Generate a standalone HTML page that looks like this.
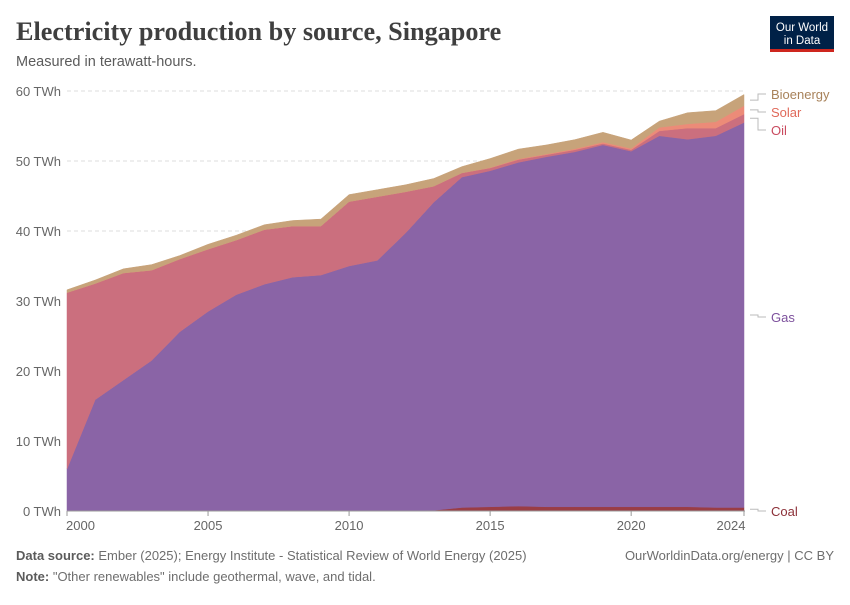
<!DOCTYPE html>
<html><head><meta charset="utf-8"><style>
body{margin:0;background:#fff;width:850px;height:600px;overflow:hidden;font-family:"Liberation Sans",sans-serif}
</style></head><body>
<svg id="chart" width="850" height="600" viewBox="0 0 850 600">
<text x="16" y="40" font-family="Liberation Serif,serif" font-size="26.2" font-weight="bold" fill="#3f3f3f">Electricity production by source, Singapore</text>
<text x="16" y="66" font-size="14.5" fill="#5b5b5b">Measured in terawatt-hours.</text>
<g>
<rect x="770" y="16" width="64" height="36" fill="#002147"/>
<rect x="770" y="49" width="64" height="3" fill="#ce261e"/>
<text x="802" y="31" text-anchor="middle" font-size="11.5" fill="#fff">Our World</text>
<text x="802" y="44" text-anchor="middle" font-size="11.5" fill="#fff">in Data</text>
</g>
<g id="grid"></g><g id="areas"></g><g id="axes"></g><g id="legend"></g>
<text x="16" y="560" font-size="13" fill="#6e6e6e"><tspan font-weight="bold" fill="#5b5b5b">Data source:</tspan> Ember (2025); Energy Institute - Statistical Review of World Energy (2025)</text>
<text x="834" y="560" text-anchor="end" font-size="13" fill="#6e6e6e">OurWorldinData.org/energy | CC BY</text>
<text x="16" y="581" font-size="13" fill="#6e6e6e"><tspan font-weight="bold" fill="#5b5b5b">Note:</tspan> "Other renewables" include geothermal, wave, and tidal.</text>
</svg>
<script>
const years=[2000,2001,2002,2003,2004,2005,2006,2007,2008,2009,2010,2011,2012,2013,2014,2015,2016,2017,2018,2019,2020,2021,2022,2023,2024];
const coal=[0,0,0,0,0,0,0,0,0,0,0,0,0,0.1,0.5,0.6,0.7,0.6,0.6,0.6,0.6,0.6,0.6,0.5,0.5];
const gas=[6.0,15.9,18.7,21.5,25.6,28.5,30.9,32.4,33.4,33.7,35.0,35.8,39.7,44.0,47.2,48.0,49.1,50.0,50.7,51.7,50.8,53.0,52.5,53.1,55.0];
const oil=[25.2,16.6,15.3,12.9,10.4,8.9,7.8,7.8,7.3,7.0,9.2,9.1,5.9,2.3,0.6,0.4,0.4,0.3,0.3,0.2,0.2,0.7,1.6,1.1,1.2];
const solar=[0,0,0,0,0,0,0,0,0,0,0,0,0,0,0,0.05,0.1,0.1,0.15,0.2,0.2,0.5,0.6,0.9,1.2];
const bio=[0.4,0.5,0.6,0.8,0.5,0.7,0.7,0.7,0.8,1.0,1.0,1.0,1.0,1.1,0.9,1.3,1.4,1.3,1.3,1.4,1.2,0.9,1.6,1.6,1.6];
const yTicks=[0,10,20,30,40,50,60];
const xTicks=[2000,2005,2010,2015,2020,2024];
const ns="http://www.w3.org/2000/svg";
const X=y=>67+(y-2000)*(744-67)/24, Y=v=>511-v*7;
function mk(tag,parent,attrs){const e=document.createElementNS(ns,tag);for(const k in attrs)e.setAttribute(k,attrs[k]);parent.appendChild(e);return e;}
const grid=document.getElementById('grid'),axes=document.getElementById('axes'),areas=document.getElementById('areas'),leg=document.getElementById('legend');
yTicks.forEach(t=>{
 if(t>0){const l=mk('line',grid,{x1:67,x2:745,y1:Y(t),y2:Y(t),stroke:'#ddd','stroke-dasharray':'4,3'});
 
 }
 const tx=mk('text',axes,{x:61,y:Y(t)+5,'text-anchor':'end','font-size':13,fill:'#666'});tx.textContent=t+' TWh';
 
 
});
const series=[['coal',coal,'#9a3d45'],['gas',gas,'#8a64a6'],['oil',oil,'#cb6f7e'],['solar',solar,'#ec8b78'],['bioenergy',bio,'#c7a37a']];
let base=years.map(()=>0);
const tops={};
series.forEach(([n,vals,c])=>{
 const top=base.map((b,i)=>b+vals[i]);
 let d='M'+years.map((y,i)=>X(y)+','+Y(top[i])).join('L');
 d+='L'+years.slice().reverse().map((y,j)=>{const i=years.length-1-j;return X(y)+','+Y(base[i]);}).join('L')+'Z';
 const p=mk('path',areas,{d:d,fill:c,stroke:c,'stroke-width':0.5});
 
 
 tops[n]=[base[base.length-1],top[top.length-1]];
 base=top;
});
const ax=mk('line',axes,{x1:67,x2:745,y1:511,y2:511,stroke:'#999'});


xTicks.forEach((t,i)=>{
 mk('line',axes,{x1:X(t),x2:X(t),y1:511,y2:516,stroke:'#999'});
 const last=i==xTicks.length-1;
 const tx=mk('text',axes,{x:i==0?X(t)-1:(last?X(t)-13:X(t)),y:530,'text-anchor':i==0?'start':'middle','font-size':13,fill:'#666'});
 tx.textContent=t;
 
 
});
const labels=[['Bioenergy',94,'#a8825a','bioenergy'],['Solar',112,'#e0695a','solar'],['Oil',130,'#c94b5f','oil'],['Gas',317,'#7d519d','gas'],['Coal',511,'#8c3038','coal']];
labels.forEach(([t,ly,c,k])=>{
 const [b,tp]=tops[k];const my=Y((b+tp)/2);
 mk('path',leg,{d:`M750,${my}H758V${ly}H766`,fill:'none',stroke:'#bbb'});
 const tx=mk('text',leg,{x:771,y:ly+5,'font-size':13,fill:c});tx.textContent=t;
 
 
});
</script>
</body></html>
